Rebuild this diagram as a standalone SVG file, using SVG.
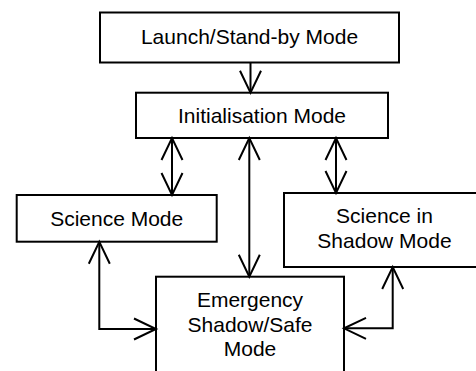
<svg xmlns="http://www.w3.org/2000/svg" width="476" height="371" viewBox="0 0 476 371">
<style>
.box{fill:#fff;stroke:#000;stroke-width:2}
.t{font-family:"Liberation Sans",Arial,sans-serif;font-size:21px;fill:#000;text-anchor:middle}
.c{fill:none;stroke:#000;stroke-width:2}
</style>
<defs>
<marker id="v" markerUnits="userSpaceOnUse" markerWidth="30" markerHeight="30" refX="0" refY="0" orient="auto-start-reverse" overflow="visible">
<path d="M-22,-10.5 L0,0 L-22,10.5" fill="none" stroke="#000" stroke-width="2"/>
</marker>
</defs>
<rect width="476" height="371" fill="#fff"/>
<g id="launch">
<rect class="box" x="100" y="12.5" width="299" height="50"/>
<text class="t" x="249.5" y="44">Launch/Stand-by Mode</text>
</g>
<g id="init">
<rect class="box" x="136" y="92.7" width="252" height="45.3"/>
<text class="t" x="262" y="123">Initialisation Mode</text>
</g>
<g id="science">
<rect class="box" x="16.7" y="195" width="200" height="46.7"/>
<text class="t" x="116.7" y="226">Science Mode</text>
</g>
<g id="shadow">
<rect class="box" x="284" y="193" width="201" height="74"/>
<text class="t" x="384.5" y="222.7">Science in</text>
<text class="t" x="384.5" y="247.7">Shadow Mode</text>
</g>
<g id="emergency">
<rect class="box" x="156" y="276.7" width="188" height="110"/>
<text class="t" x="250" y="306.7">Emergency</text>
<text class="t" x="250" y="331.5">Shadow/Safe</text>
<text class="t" x="250" y="356">Mode</text>
</g>
<g id="connectors">
<path class="c" d="M250.5,62.5 V92.7" marker-end="url(#v)"/>
<path class="c" d="M172,138 V195" marker-start="url(#v)" marker-end="url(#v)"/>
<path class="c" d="M249.3,138 V276.7" marker-start="url(#v)" marker-end="url(#v)"/>
<path class="c" d="M336,138 V193" marker-start="url(#v)" marker-end="url(#v)"/>
<path class="c" d="M99.3,241.7 V329 H156" marker-start="url(#v)" marker-end="url(#v)"/>
<path class="c" d="M392.7,267 V328.3 H344" marker-start="url(#v)" marker-end="url(#v)"/>
</g>
</svg>
